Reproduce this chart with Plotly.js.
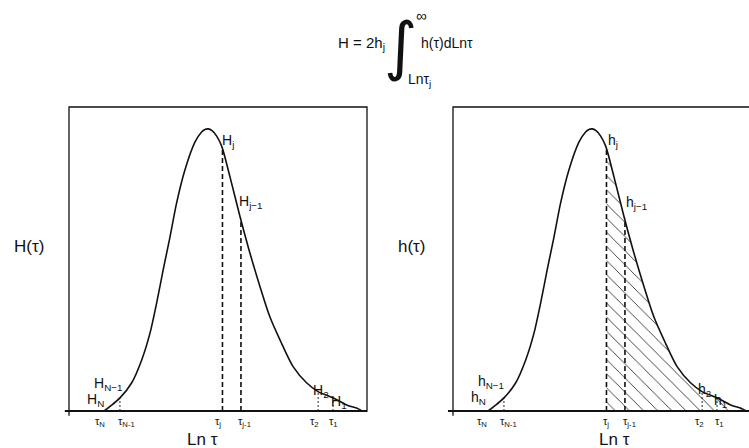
<!DOCTYPE html>
<html>
<head>
<meta charset="utf-8">
<script src="https://cdn.plot.ly/plotly-3.0.1.min.js"></script>
<style>html,body{margin:0;padding:0;background:#fff;}#chart{width:749px;height:448px;}</style>
</head>
<body>
<div id="chart"></div>
<script>
// ---- data (x = Ln tau, y = relative height) ----
const lnTau = [1.14, 1.21, 1.71, 2.10, 2.44, 2.72, 2.94, 3.16, 3.39, 3.61, 3.89, 4.23, 4.45, 4.56, 4.67, 4.80, 4.95, 5.12, 5.40, 5.74, 6.07, 6.41, 6.74, 7.08, 7.52, 7.98, 8.37, 8.87, 9.32, 9.71, 9.83];
const hCurve = [0, 0.003, 0.043, 0.092, 0.168, 0.257, 0.355, 0.464, 0.573, 0.684, 0.793, 0.885, 0.918, 0.926, 0.928, 0.922, 0.905, 0.872, 0.771, 0.639, 0.520, 0.409, 0.310, 0.234, 0.146, 0.092, 0.063, 0.043, 0.020, 0.007, 0];
const pointNames = ['N', 'N-1', 'j', 'j-1', '2', '1'];
const pointLnTau = [1.14, 1.71, 5.15, 5.77, 8.36, 8.86];
const pointH = [0, 0.043, 0.866, 0.632, 0.064, 0.044];
const pointStyle = ['none', 'thin', 'thick', 'thick', 'thin', 'thin'];

const W = 749, HH = 448;
const FONT = 'Liberation Sans, Arial, Helvetica, sans-serif';
function px(x) { return x / W; }
function py(y) { return 1 - y / HH; }
function ann(text, x, y, size, xanchor) {
  return {xref: 'paper', yref: 'paper', x: px(x), y: py(y), text: text, showarrow: false,
    xanchor: xanchor || 'left', yanchor: 'middle', borderpad: 0,
    font: {family: FONT, size: size, color: '#111'}};
}

// hatched region: from tau_j to the end of the curve
const jIdx = pointNames.indexOf('j');
const hatchX = [pointLnTau[jIdx]], hatchY = [pointH[jIdx]];
lnTau.forEach((v, i) => { if (v > pointLnTau[jIdx]) { hatchX.push(v); hatchY.push(hCurve[i]); } });

const traces = [];
traces.push({x: hatchX, y: hatchY, xaxis: 'x2', yaxis: 'y2', mode: 'none', fill: 'tozeroy',
  line: {shape: 'spline', smoothing: 0.8}, fillcolor: 'rgba(0,0,0,0)',
  fillpattern: {shape: '\\', size: 10, solidity: 0.09, fgcolor: '#333', bgcolor: 'rgba(0,0,0,0)'}, hoverinfo: 'skip'});
['', '2'].forEach(s => {
  traces.push({x: lnTau, y: hCurve, xaxis: 'x' + s, yaxis: 'y' + s, mode: 'lines',
    line: {color: '#111', width: 1.6, shape: 'spline', smoothing: 0.8}, hoverinfo: 'skip'});
  pointNames.forEach((n, i) => {
    if (pointStyle[i] === 'none') return;
    const thick = pointStyle[i] === 'thick';
    traces.push({x: [pointLnTau[i], pointLnTau[i]], y: [0, pointH[i]], xaxis: 'x' + s, yaxis: 'y' + s,
      mode: 'lines', line: {color: '#111', width: thick ? 1.6 : 0.9, dash: thick ? '5px,3px' : '2px,2px'}, hoverinfo: 'skip'});
  });
});

const yDom = [py(411), py(107)];
const ax = {visible: false, fixedrange: true};
const layout = {
  width: W, height: HH, margin: {l: 0, r: 0, t: 0, b: 0}, showlegend: false,
  paper_bgcolor: '#fff', plot_bgcolor: 'rgba(0,0,0,0)',
  xaxis: Object.assign({domain: [px(69), px(367)], range: [0, 10], anchor: 'y'}, ax),
  yaxis: Object.assign({domain: yDom, range: [0, 1], anchor: 'x'}, ax),
  xaxis2: Object.assign({domain: [px(453), 1], range: [0, (749 - 453) / 29.8], anchor: 'y2'}, ax),
  yaxis2: Object.assign({domain: yDom, range: [0, 1], anchor: 'x2'}, ax),
  shapes: [
    {type: 'rect', xref: 'x domain', yref: 'y domain', x0: 0, x1: 1, y0: 0, y1: 1, line: {color: '#111', width: 1.3}},
    {type: 'line', xref: 'x domain', yref: 'y domain', x0: -0.014, x1: 1, y0: 0, y1: 0, line: {color: '#111', width: 2}},
    {type: 'line', xref: 'x domain', yref: 'y domain', x0: 0, x1: 0, y0: -0.016, y1: 0, line: {color: '#111', width: 1.3}},
    {type: 'path', xref: 'x2 domain', yref: 'y2 domain', path: 'M 0 -0.016 L 0 1 L 1.02 1', line: {color: '#111', width: 1.3}},
    {type: 'line', xref: 'x2 domain', yref: 'y2 domain', x0: -0.017, x1: 1.02, y0: 0, y1: 0, line: {color: '#111', width: 2}}
  ],
  annotations: [
    // title formula
    ann('H = 2h<sub>j</sub>', 386, 43, 15, 'right'),
    Object.assign(ann('∫', 400, 46, 64, 'center'), {font: {family: 'DejaVu Sans, sans-serif', size: 64, color: '#111'}}),
    ann('∞', 415, 16, 15),
    ann('h(τ)dLnτ', 420, 43, 14),
    ann('Lnτ<sub>j</sub>', 407, 80, 14),
    // axis labels
    ann('H(τ)', 29, 246, 17, 'center'),
    ann('h(τ)', 412, 246, 17, 'center'),
    ann('Ln τ', 203, 439, 17, 'center'),
    ann('Ln τ', 614, 439, 17, 'center'),
    // left panel point labels
    ann('H<sub>j</sub>', 221, 141, 14),
    ann('H<sub>j−1</sub>', 238, 202, 14),
    ann('H<sub>N−1</sub>', 93, 384, 14),
    ann('H<sub>N</sub>', 86, 400, 14),
    ann('H<sub>2</sub>', 312, 391, 14),
    ann('H<sub>1</sub>', 330, 402, 14),
    ann('τ<sub>N</sub>', 94, 422, 11),
    ann('τ<sub>N-1</sub>', 117, 422, 11),
    ann('τ<sub>j</sub>', 214, 422, 11),
    ann('τ<sub>j-1</sub>', 237, 422, 11),
    ann('τ<sub>2</sub>', 309, 422, 11),
    ann('τ<sub>1</sub>', 328, 422, 11),
    // right panel point labels
    ann('h<sub>j</sub>', 607, 141, 14),
    ann('h<sub>j−1</sub>', 625, 203, 14),
    ann('h<sub>N−1</sub>', 477, 382, 14),
    ann('h<sub>N</sub>', 470, 398, 14),
    ann('h<sub>2</sub>', 697, 390, 14),
    ann('h<sub>1</sub>', 713, 401, 14),
    ann('τ<sub>N</sub>', 476, 422, 11),
    ann('τ<sub>N-1</sub>', 499, 422, 11),
    ann('τ<sub>j</sub>', 602, 422, 11),
    ann('τ<sub>j-1</sub>', 622, 422, 11),
    ann('τ<sub>2</sub>', 694, 422, 11),
    ann('τ<sub>1</sub>', 714, 422, 11)
  ]
};
Plotly.newPlot('chart', traces, layout, {staticPlot: true, displayModeBar: false});
</script>
</body>
</html>
